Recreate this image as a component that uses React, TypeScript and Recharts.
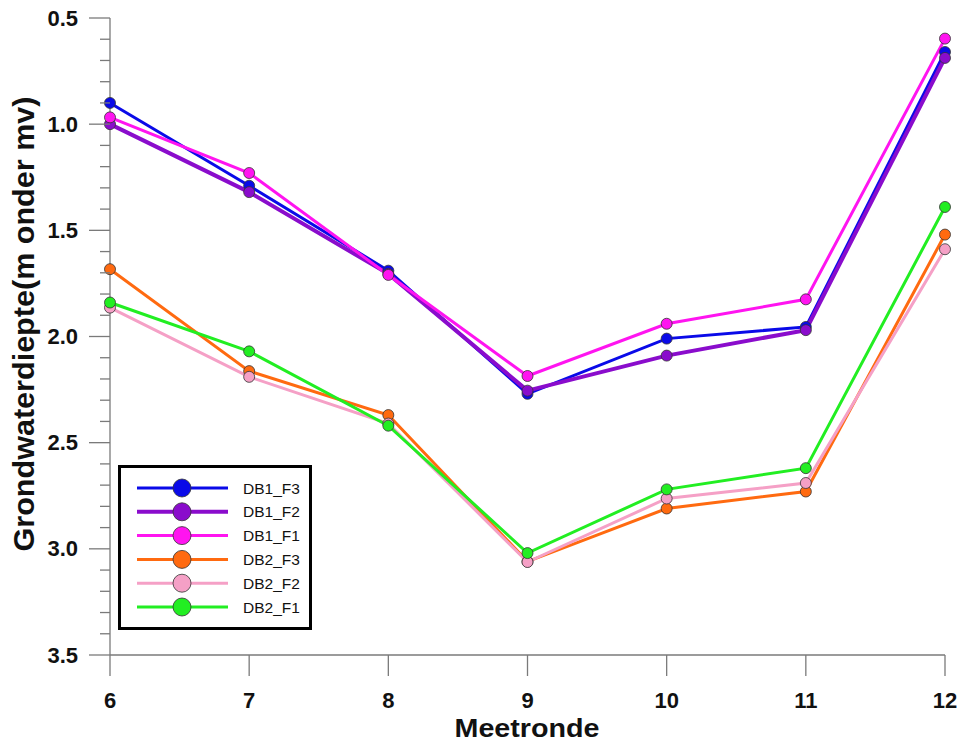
import React from "react";
import { LineChart, Line, XAxis, YAxis, Legend, Label } from "recharts";

// Meetrondes (x) and groundwater depth per filter, m below surface level
const rondes = [6, 7, 8, 9, 10, 11, 12];
const db1F3 = [0.9, 1.29, 1.69, 2.27, 2.01, 1.955, 0.66];
const db1F2 = [1.0, 1.32, 1.705, 2.255, 2.09, 1.97, 0.688];
const db1F1 = [0.968, 1.23, 1.71, 2.186, 1.94, 1.825, 0.597];
const db2F3 = [1.683, 2.163, 2.37, 3.06, 2.81, 2.73, 1.52];
const db2F2 = [1.864, 2.19, 2.41, 3.062, 2.763, 2.69, 1.589];
const db2F1 = [1.84, 2.07, 2.42, 3.02, 2.72, 2.62, 1.39];

const xTicks = [6, 7, 8, 9, 10, 11, 12];
// minor ticks every 0.1, labelled every 0.5
const yTicks = Array.from({ length: 31 }, (_, i) => Math.round((0.5 + i * 0.1) * 10) / 10);

const FONT = "'Liberation Sans', Arial, sans-serif";
const AXIS_GREY = "#7a7a7a";

const series = [
  { key: "DB1_F3", values: db1F3, color: "#0a0ae8", width: 3 },
  { key: "DB1_F2", values: db1F2, color: "#8a0ccc", width: 4 },
  { key: "DB1_F1", values: db1F1, color: "#ff14f0", width: 3 },
  { key: "DB2_F3", values: db2F3, color: "#ff6a10", width: 3 },
  { key: "DB2_F2", values: db2F2, color: "#f5a0c6", width: 3 },
  { key: "DB2_F1", values: db2F1, color: "#22ee22", width: 3 },
];

const data = rondes.map((r, i) => {
  const row: Record<string, number> = { ronde: r };
  series.forEach((s) => (row[s.key] = s.values[i]));
  return row;
});

const YTick = (props: any) => {
  const { x, y, payload } = props;
  const v = payload.value;
  const major = Math.abs(v * 2 - Math.round(v * 2)) < 1e-6;
  return (
    <g>
      <line x1={x - (major ? 21 : 10)} x2={x} y1={y} y2={y} stroke={AXIS_GREY} strokeWidth={1.3} />
      {major && (
        <text
          x={x - 32}
          y={y}
          textAnchor="end"
          dominantBaseline="central"
          fontFamily={FONT}
          fontWeight="bold"
          fontSize={22}
          fill="#111"
        >
          {v.toFixed(1)}
        </text>
      )}
    </g>
  );
};

const XTick = (props: any) => {
  const { x, y, payload } = props;
  return (
    <text
      x={x}
      y={y + 24}
      textAnchor="middle"
      dominantBaseline="central"
      fontFamily={FONT}
      fontWeight="bold"
      fontSize={22}
      fill="#111"
    >
      {payload.value}
    </text>
  );
};

const XTitle = () => (
  <text
    x={527}
    y={737}
    textAnchor="middle"
    fontFamily={FONT}
    fontWeight="bold"
    fontSize={25}
    textLength={145}
    lengthAdjust="spacingAndGlyphs"
    fill="#111"
  >
    Meetronde
  </text>
);

const YTitle = () => (
  <text
    x={34}
    y={324}
    transform="rotate(-90, 34, 324)"
    textAnchor="middle"
    fontFamily={FONT}
    fontWeight="bold"
    fontSize={29}
    textLength={455}
    lengthAdjust="spacingAndGlyphs"
    fill="#111"
  >
    Grondwaterdiepte(m onder mv)
  </text>
);

const LegendBox = () => (
  <svg width={194} height={165} style={{ display: "block" }}>
    <rect x={1.5} y={1.5} width={191} height={162} fill="#fff" stroke="#000" strokeWidth={3} />
    {series.map((s, i) => {
      const cy = 23 + i * 23.8;
      return (
        <g key={s.key}>
          <line x1={19} x2={110} y1={cy} y2={cy} stroke={s.color} strokeWidth={s.width === 4 ? 4 : 3} />
          <circle cx={64} cy={cy} r={9} fill={s.color} stroke="#333" strokeWidth={0.8} />
          <text x={125} y={cy} dominantBaseline="central" fontFamily={FONT} fontSize={15.5} fill="#111">
            {s.key}
          </text>
        </g>
      );
    })}
  </svg>
);

export default function App() {
  return (
    <div style={{ position: "absolute", left: 0, top: 0, background: "#fff" }}>
      <LineChart width={960} height={746} data={data} margin={{ top: 18, right: 15, left: 0, bottom: 0 }}>
        <XAxis
          dataKey="ronde"
          type="number"
          domain={[6, 12]}
          ticks={xTicks}
          interval={0}
          height={91}
          axisLine={{ stroke: AXIS_GREY, strokeWidth: 1.3 }}
          tickLine={{ stroke: AXIS_GREY, strokeWidth: 1.3 }}
          tickSize={21}
          tickMargin={0}
          tick={<XTick />}
        >
          <Label content={<XTitle />} />
        </XAxis>
        <YAxis
          type="number"
          reversed
          domain={[0.5, 3.5]}
          ticks={yTicks}
          interval={0}
          width={110}
          axisLine={{ stroke: AXIS_GREY, strokeWidth: 1.3 }}
          tickLine={false}
          tickSize={0}
          tickMargin={0}
          tick={<YTick />}
        >
          <Label content={<YTitle />} />
        </YAxis>
        <Legend
          layout="vertical"
          align="center"
          verticalAlign="middle"
          content={<LegendBox />}
          wrapperStyle={{ left: 118, top: 465, width: 194, height: 165 }}
        />
        {series.map((s) => (
          <Line
            key={s.key}
            dataKey={s.key}
            name={s.key}
            type="linear"
            stroke={s.color}
            strokeWidth={s.width}
            dot={{ r: 5.5, fill: s.color, stroke: "#333", strokeWidth: 0.8 }}
            activeDot={false}
            isAnimationActive={false}
          />
        ))}
      </LineChart>
    </div>
  );
}
